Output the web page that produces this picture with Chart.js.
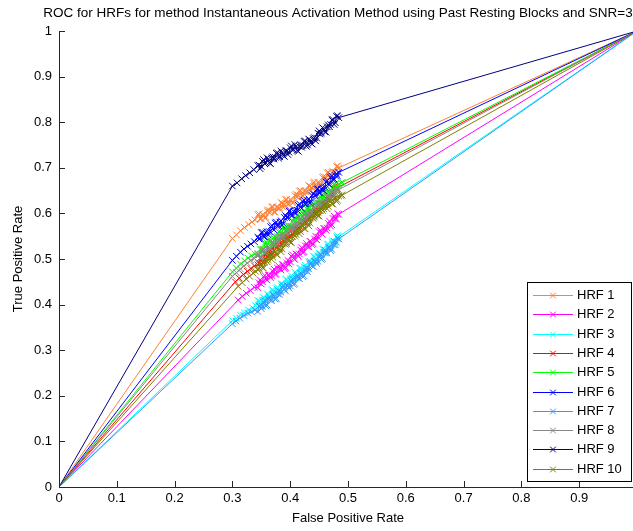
<!DOCTYPE html>
<html>
<head>
<meta charset="utf-8">
<script src="https://cdn.jsdelivr.net/npm/chart.js@4.4.0/dist/chart.umd.min.js"></script>
<style>
html,body{margin:0;padding:0;overflow:hidden;background:#fff;width:633px;height:531px}
#wrap{position:absolute;left:0;top:0;width:650px;height:531px}
canvas{display:block}
</style>
</head>
<body>
<div id="wrap"><canvas id="c" width="650" height="531"></canvas></div>
<script>
const titleText = 'ROC for HRFs for method Instantaneous Activation Method using Past Resting Blocks and SNR=3';
const xTitle = 'False Positive Rate';
const yTitle = 'True Positive Rate';
const seriesNames = ['HRF 1','HRF 2','HRF 3','HRF 4','HRF 5','HRF 6','HRF 7','HRF 8','HRF 9','HRF 10'];
const seriesColors = ['#FF8033','#FF00FF','#00FFFF','#FF0000','#00FF00','#0000FF','#3399FF','#888888','#000080','#808000'];
const xTickValues = [0,0.1,0.2,0.3,0.4,0.5,0.6,0.7,0.8,0.9,1];
const xTickLabels = ['0','0.1','0.2','0.3','0.4','0.5','0.6','0.7','0.8','0.9','1'];
const yTickValues = [0,0.1,0.2,0.3,0.4,0.5,0.6,0.7,0.8,0.9,1];
const yTickLabels = ['0','0.1','0.2','0.3','0.4','0.5','0.6','0.7','0.8','0.9','1'];

const hrf1 = [[0,0],[0.300,0.545],[0.307,0.553],[0.314,0.562],[0.321,0.569],[0.328,0.576],[0.334,0.581],[0.339,0.586],
[.344,.597],[.346,.599],[.348,.588],[.350,.588],[.352,.597],[.354,.596],[.356,.590],[.358,.591],[.360,.606],[.362,.608],[.364,.602],[.366,.605],[.368,.614],[.370,.615],[.372,.603],[.374,.603],[.376,.613],[.378,.614],[.380,.611],[.382,.611],[.384,.624],[.386,.623],[.388,.613],[.390,.619],
[.392,.630],[.394,.631],[.396,.620],[.398,.620],[.400,.630],[.402,.629],[.404,.623],[.406,.624],[.408,.639],[.410,.642],[.412,.636],[.414,.640],[.416,.649],[.418,.650],[.420,.638],[.422,.638],[.424,.648],[.426,.650],[.428,.647],[.430,.647],[.432,.661],[.434,.660],[.436,.650],[.438,.656],
[.440,.667],[.442,.669],[.444,.658],[.446,.658],[.448,.668],[.450,.667],[.452,.662],[.454,.664],[.456,.679],[.458,.681],[.460,.675],[.462,.679],[.464,.689],[.466,.690],[.468,.679],[.470,.680],[.472,.690],[.474,.692],[.476,.690],[.478,.690],[.480,.703],[.482,.704],[.484,.700],[1,1]];
const hrf2 = [[0,0],[0.310,0.410],[0.317,0.418],[0.324,0.425],[0.331,0.431],[0.338,0.438],
[.344,.437],[.346,.448],[.348,.454],[.350,.445],[.352,.450],[.354,.461],[.356,.464],[.358,.456],[.360,.454],[.362,.465],[.364,.464],[.366,.459],[.368,.464],[.370,.473],[.372,.478],[.374,.466],[.376,.467],[.378,.480],[.380,.485],[.382,.478],[.384,.476],[.386,.488],[.388,.487],[.390,.479],
[.392,.481],[.394,.491],[.396,.497],[.398,.489],[.400,.494],[.402,.506],[.404,.509],[.406,.501],[.408,.499],[.410,.511],[.412,.510],[.414,.506],[.416,.511],[.418,.520],[.420,.525],[.422,.514],[.424,.516],[.426,.529],[.428,.534],[.430,.528],[.432,.527],[.434,.539],[.436,.538],[.438,.531],
[.440,.533],[.442,.544],[.444,.550],[.446,.542],[.448,.548],[.450,.560],[.452,.563],[.454,.556],[.456,.554],[.458,.567],[.460,.567],[.462,.563],[.464,.568],[.466,.578],[.468,.583],[.470,.572],[.472,.575],[.474,.589],[.476,.594],[.478,.588],[.480,.588],[.482,.599],[.484,.598],[1,1]];
const hrf3 = [[0,0],[0.300,0.365],[0.307,0.370],[0.314,0.377],[0.321,0.382],[0.328,0.388],[0.335,0.393],[0.340,0.398],
[.344,.409],[.346,.408],[.348,.399],[.350,.402],[.352,.410],[.354,.416],[.356,.410],[.358,.412],[.360,.424],[.362,.421],[.364,.414],[.366,.416],[.368,.432],[.370,.432],[.372,.424],[.374,.427],[.376,.435],[.378,.438],[.380,.428],[.382,.432],[.384,.445],[.386,.446],[.388,.442],[.390,.442],
[.392,.456],[.394,.455],[.396,.446],[.398,.449],[.400,.457],[.402,.463],[.404,.457],[.406,.459],[.408,.471],[.410,.469],[.412,.462],[.414,.464],[.416,.480],[.418,.480],[.420,.472],[.422,.475],[.424,.483],[.426,.486],[.428,.477],[.430,.481],[.432,.494],[.434,.495],[.436,.491],[.438,.492],
[.440,.506],[.442,.505],[.444,.496],[.446,.499],[.448,.507],[.450,.513],[.452,.507],[.454,.510],[.456,.522],[.458,.520],[.460,.513],[.462,.516],[.464,.532],[.466,.533],[.468,.525],[.470,.528],[.472,.537],[.474,.540],[.476,.531],[.478,.535],[.480,.549],[.482,.551],[.484,.549],[1,1]];
const hrf4 = [[0,0],[0.305,0.450],[0.312,0.458],[0.319,0.466],[0.326,0.473],[0.332,0.479],[0.338,0.485],
[.344,.487],[.346,.490],[.348,.502],[.350,.499],[.352,.492],[.354,.495],[.356,.511],[.358,.512],[.360,.504],[.362,.507],[.364,.516],[.366,.519],[.368,.510],[.370,.514],[.372,.528],[.374,.529],[.376,.526],[.378,.526],[.380,.540],[.382,.540],[.384,.531],[.386,.534],[.388,.543],[.390,.550],
[.392,.544],[.394,.546],[.396,.558],[.398,.556],[.400,.549],[.402,.552],[.404,.568],[.406,.568],[.408,.560],[.410,.563],[.412,.571],[.414,.575],[.416,.566],[.418,.570],[.420,.583],[.422,.584],[.424,.581],[.426,.581],[.428,.595],[.430,.595],[.432,.586],[.434,.589],[.436,.597],[.438,.604],
[.440,.598],[.442,.600],[.444,.612],[.446,.610],[.448,.603],[.450,.606],[.452,.622],[.454,.623],[.456,.616],[.458,.619],[.460,.628],[.462,.632],[.464,.624],[.466,.629],[.468,.643],[.470,.645],[.472,.642],[.474,.643],[.476,.657],[.478,.660],[.480,.655],[1,1]];
const hrf5 = [[0,0],[0.300,0.472],[0.307,0.480],[0.314,0.489],[0.321,0.496],[0.327,0.502],[0.333,0.507],[0.339,0.511],
[.344,.510],[.346,.509],[.348,.521],[.350,.522],[.352,.515],[.354,.521],[.356,.533],[.358,.538],[.360,.530],[.362,.532],[.364,.544],[.366,.541],[.368,.534],[.370,.533],[.372,.546],[.374,.550],[.376,.546],[.378,.550],[.380,.560],[.382,.561],[.384,.550],[.386,.554],[.388,.568],[.390,.567],
[.392,.561],[.394,.560],[.396,.572],[.398,.573],[.400,.566],[.402,.572],[.404,.583],[.406,.588],[.408,.581],[.410,.583],[.412,.595],[.414,.592],[.416,.585],[.418,.584],[.420,.597],[.422,.601],[.424,.597],[.426,.601],[.428,.611],[.430,.613],[.432,.602],[.434,.606],[.436,.620],[.438,.618],
[.440,.612],[.442,.611],[.444,.624],[.446,.625],[.448,.618],[.450,.624],[.452,.635],[.454,.640],[.456,.632],[.458,.635],[.460,.647],[.462,.644],[.464,.637],[.466,.636],[.468,.648],[.470,.652],[.472,.648],[.474,.653],[.476,.663],[.478,.664],[.480,.653],[.482,.654],[.484,.664],[.488,.667],[.490,.668],[1,1]];
const hrf6 = [[0,0],[0.300,0.497],[0.307,0.506],[0.314,0.515],[0.320,0.522],[0.326,0.528],[0.332,0.533],[0.338,0.538],
[.344,.548],[.346,.544],[.348,.545],[.350,.558],[.352,.559],[.354,.549],[.356,.549],[.358,.557],[.360,.560],[.362,.553],[.364,.560],[.366,.571],[.368,.574],[.370,.566],[.372,.564],[.374,.579],[.376,.581],[.378,.572],[.380,.573],[.382,.581],[.384,.584],[.386,.574],[.388,.578],[.390,.591],
[.392,.595],[.394,.591],[.396,.592],[.398,.605],[.400,.606],[.402,.596],[.404,.596],[.406,.604],[.408,.607],[.410,.600],[.412,.607],[.414,.618],[.416,.621],[.418,.613],[.420,.611],[.422,.626],[.424,.629],[.426,.620],[.428,.621],[.430,.629],[.432,.632],[.434,.622],[.436,.626],[.438,.639],
[.440,.643],[.442,.639],[.444,.640],[.446,.653],[.448,.654],[.450,.645],[.452,.645],[.454,.653],[.456,.656],[.458,.650],[.460,.657],[.462,.669],[.464,.672],[.466,.665],[.468,.663],[.470,.679],[.472,.682],[.474,.674],[.476,.675],[.478,.683],[.480,.687],[.482,.682],[.484,.690],[1,1]];
const hrf7 = [[0,0],[0.300,0.358],[0.306,0.364],[0.313,0.370],[0.320,0.376],[0.327,0.381],[0.333,0.384],[0.339,0.388],
[.344,.385],[.346,.397],[.348,.396],[.350,.391],[.352,.396],[.354,.405],[.356,.409],[.358,.397],[.360,.399],[.362,.412],[.364,.417],[.366,.410],[.368,.409],[.370,.421],[.372,.420],[.374,.412],[.376,.413],[.378,.424],[.380,.430],[.382,.422],[.384,.427],[.386,.438],[.388,.441],[.390,.433],
[.392,.430],[.394,.442],[.396,.441],[.398,.436],[.400,.441],[.402,.451],[.404,.456],[.406,.444],[.408,.446],[.410,.459],[.412,.464],[.414,.458],[.416,.457],[.418,.469],[.420,.468],[.422,.461],[.424,.463],[.426,.474],[.428,.480],[.430,.472],[.432,.478],[.434,.489],[.436,.492],[.438,.485],
[.440,.483],[.442,.495],[.444,.494],[.446,.490],[.448,.495],[.450,.505],[.452,.510],[.454,.499],[.456,.501],[.458,.515],[.460,.520],[.462,.514],[.464,.513],[.466,.525],[.468,.525],[.470,.518],[.472,.521],[.474,.532],[.476,.539],[.478,.531],[.480,.537],[.482,.545],[.484,.544],[1,1]];
const hrf8 = [[0,0],[0.300,0.462],[0.307,0.470],[0.314,0.478],[0.320,0.485],[0.326,0.491],[0.332,0.497],[0.338,0.501],
[.344,.512],[.346,.509],[.348,.502],[.350,.504],[.352,.520],[.354,.521],[.356,.513],[.358,.516],[.360,.524],[.362,.527],[.364,.518],[.366,.522],[.368,.535],[.370,.536],[.372,.533],[.374,.533],[.376,.547],[.378,.546],[.380,.537],[.382,.540],[.384,.548],[.386,.554],[.388,.548],[.390,.551],
[.392,.563],[.394,.560],[.396,.553],[.398,.555],[.400,.571],[.402,.571],[.404,.563],[.406,.566],[.408,.575],[.410,.578],[.412,.569],[.414,.573],[.416,.586],[.418,.587],[.420,.583],[.422,.583],[.424,.597],[.426,.597],[.428,.588],[.430,.591],[.432,.599],[.434,.605],[.436,.599],[.438,.601],
[.440,.613],[.442,.611],[.444,.604],[.446,.606],[.448,.622],[.450,.622],[.452,.614],[.454,.617],[.456,.625],[.458,.628],[.460,.619],[.462,.623],[.464,.636],[.466,.637],[.468,.634],[.470,.634],[.472,.648],[.474,.647],[.476,.638],[.478,.641],[.480,.649],[.482,.654],[.484,.652],[1,1]];
const hrf9 = [[0,0],[0.300,0.660],[0.308,0.667],[0.316,0.676],[0.323,0.683],[0.330,0.689],[0.337,0.696],
[.344,.705],[.346,.706],[.348,.698],[.350,.703],[.352,.714],[.354,.718],[.356,.709],[.358,.711],[.360,.722],[.362,.719],[.364,.711],[.366,.709],[.368,.721],[.370,.724],[.372,.719],[.374,.723],[.376,.732],[.378,.733],[.380,.721],[.382,.724],[.384,.737],[.386,.734],[.388,.727],[.390,.725],
[.392,.737],[.394,.737],[.396,.729],[.398,.734],[.400,.744],[.402,.748],[.404,.739],[.406,.740],[.408,.751],[.410,.747],[.412,.738],[.414,.736],[.416,.747],[.418,.750],[.420,.745],[.422,.749],[.424,.758],[.426,.759],[.428,.747],[.430,.750],[.432,.763],[.434,.761],[.436,.754],[.438,.752],
[.440,.764],[.442,.766],[.444,.759],[.446,.765],[.448,.776],[.450,.781],[.452,.774],[.454,.776],[.456,.788],[.458,.786],[.460,.779],[.462,.778],[.464,.790],[.466,.794],[.468,.790],[.470,.795],[.472,.805],[.474,.806],[.476,.795],[.478,.799],[.480,.813],[.482,.814],[.484,.810],[1,1]];
const hrf10 = [[0,0],[0.310,0.440],[0.317,0.448],[0.324,0.456],[0.330,0.462],[0.336,0.469],[0.340,0.473],
[.344,.476],[.346,.479],[.348,.491],[.350,.488],[.352,.481],[.354,.480],[.356,.493],[.358,.498],[.360,.494],[.362,.498],[.364,.508],[.366,.510],[.368,.499],[.370,.504],[.372,.518],[.374,.516],[.376,.510],[.378,.509],[.380,.522],[.382,.523],[.384,.516],[.386,.522],[.388,.534],[.390,.539],
[.392,.532],[.394,.534],[.396,.546],[.398,.544],[.400,.537],[.402,.536],[.404,.549],[.406,.554],[.408,.550],[.410,.554],[.412,.564],[.414,.566],[.416,.555],[.418,.560],[.420,.574],[.422,.573],[.424,.567],[.426,.566],[.428,.579],[.430,.580],[.432,.573],[.434,.579],[.436,.591],[.438,.596],
[.440,.589],[.442,.592],[.444,.604],[.446,.602],[.448,.595],[.450,.594],[.452,.606],[.454,.610],[.456,.606],[.458,.610],[.460,.620],[.462,.621],[.464,.610],[.466,.615],[.468,.629],[.470,.627],[.472,.621],[.474,.620],[.476,.632],[.478,.633],[.480,.626],[.482,.629],[.484,.638],[.488,.639],[.490,.640],[1,1]];

const seriesData = [hrf1,hrf2,hrf3,hrf4,hrf5,hrf6,hrf7,hrf8,hrf9,hrf10];
const FONT = '"Liberation Sans", Arial, Helvetica, sans-serif';

const datasets = seriesData.map((pts,i)=>({
  label: seriesNames[i],
  data: pts.map(p=>({x:p[0],y:p[1]})),
  showLine: true,
  borderColor: seriesColors[i],
  backgroundColor: seriesColors[i],
  borderWidth: 1,
  pointStyle: 'crossRot',
  pointRadius: 4.6,
  pointHoverRadius: 4.6,
  pointBorderWidth: 1,
  pointBorderColor: seriesColors[i],
  tension: 0,
  fill: false,
  order: seriesData.length - 1 - i
}));

const decorPlugin = {
  id: 'decor',
  afterDraw(chart){
    const {ctx, chartArea:a, scales} = chart;
    const xs = scales.x, ys = scales.y;
    ctx.save();
    ctx.strokeStyle = '#262626';
    ctx.lineWidth = 1;
    ctx.beginPath();
    xTickValues.forEach(v=>{
      const px = Math.round(xs.getPixelForValue(v)) + 0.5;
      ctx.moveTo(px, a.bottom); ctx.lineTo(px, a.bottom - 6);
    });
    yTickValues.forEach(v=>{
      const py = Math.round(ys.getPixelForValue(v)) + 0.5;
      ctx.moveTo(a.left, py); ctx.lineTo(a.left + 6, py);
    });
    ctx.stroke();
    ctx.fillStyle = '#000';
    ctx.font = '13.5px ' + FONT;
    ctx.textAlign = 'center';
    ctx.textBaseline = 'middle';
    ctx.fillText(titleText, 338, 13);
    const lx = 527.5, ly = 282.5, lw = 104, lh = 199;
    ctx.fillStyle = '#fff';
    ctx.fillRect(lx, ly, lw, lh);
    ctx.strokeStyle = '#000';
    ctx.strokeRect(lx, ly, lw, lh);
    ctx.font = '13px ' + FONT;
    ctx.textAlign = 'left';
    seriesNames.forEach((name,i)=>{
      const cy = Math.round(295 + i * 19.3) + 0.5;
      ctx.strokeStyle = seriesColors[i];
      ctx.lineWidth = 1;
      ctx.beginPath(); ctx.moveTo(533, cy); ctx.lineTo(573, cy); ctx.stroke();
      Chart.helpers.drawPoint(ctx, {pointStyle:'crossRot', radius:4, borderWidth:1}, 553, cy);
      ctx.fillStyle = '#000';
      ctx.fillText(name, 577, cy);
    });
    ctx.restore();
  }
};

new Chart(document.getElementById('c'), {
  type: 'scatter',
  data: { datasets },
  options: {
    responsive: false,
    animation: false,
    devicePixelRatio: 1,
    layout: { padding: { top: 31, right: 13, left: 0, bottom: 0 } },
    plugins: { legend: { display: false }, tooltip: { enabled: false }, title: { display: false } },
    scales: {
      x: {
        type: 'linear', min: 0, max: 1,
        afterFit(s){ s.height = 44; },
        afterBuildTicks(s){ s.ticks = xTickValues.map(v=>({value:v})); },
        ticks: { padding: 4, color: '#000', autoSkip: false, maxRotation: 0,
          font: { family: FONT, size: 13 },
          callback: (v, i) => xTickLabels[i] },
        grid: { display: false, drawTicks: false },
        border: { display: true, color: '#262626', width: 1 },
        title: { display: true, text: xTitle, color: '#000', font: { family: FONT, size: 13 }, padding: { top: 0, bottom: 5 } }
      },
      y: {
        type: 'linear', min: 0, max: 1,
        afterFit(s){ s.width = 59; },
        afterBuildTicks(s){ s.ticks = yTickValues.map(v=>({value:v})); },
        ticks: { padding: 7, color: '#000', autoSkip: false,
          font: { family: FONT, size: 13 },
          callback: (v, i) => yTickLabels[i] },
        grid: { display: false, drawTicks: false },
        border: { display: true, color: '#262626', width: 1 },
        title: { display: true, text: yTitle, color: '#000', font: { family: FONT, size: 13 }, padding: { top: 11, bottom: 0 } }
      }
    }
  },
  plugins: [decorPlugin]
});
</script>
</body>
</html>
